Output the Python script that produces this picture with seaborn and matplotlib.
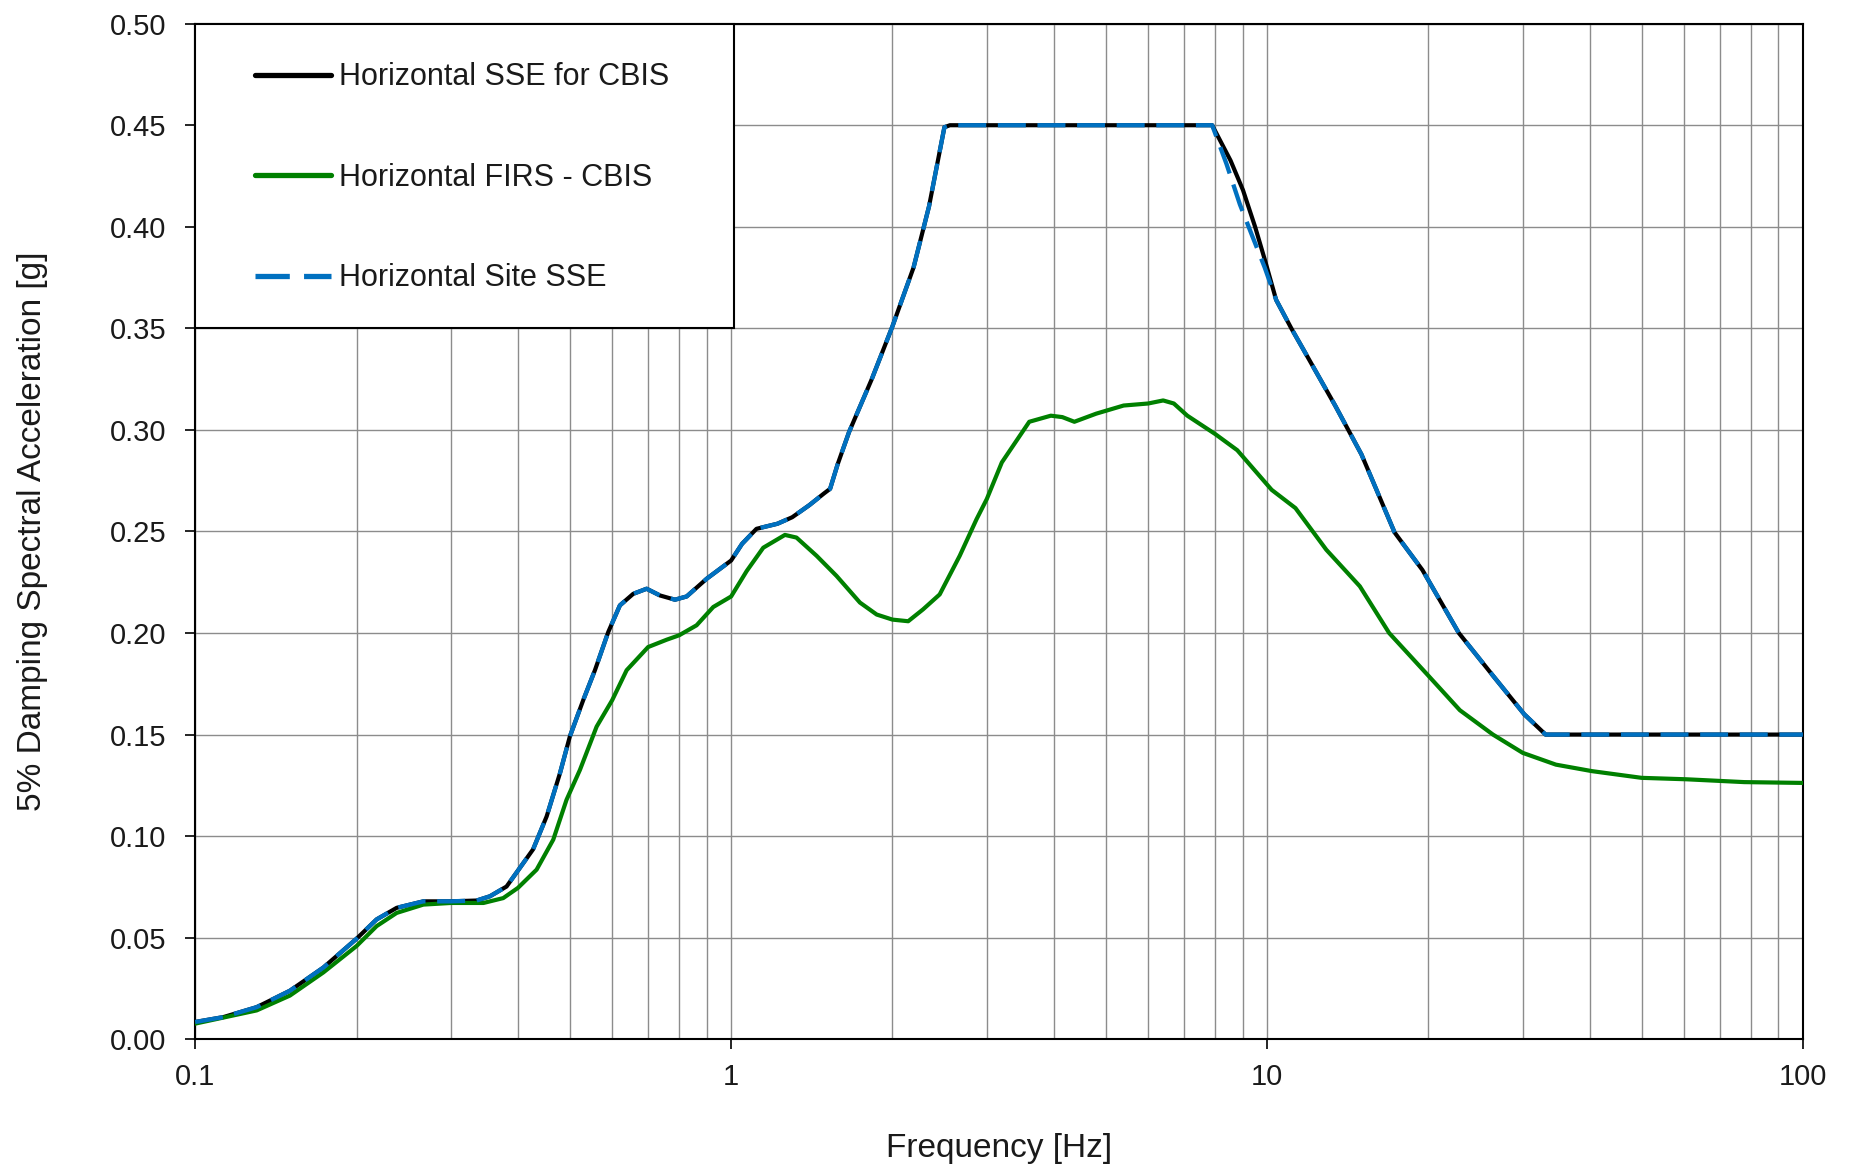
import matplotlib
matplotlib.use("Agg")
import matplotlib.pyplot as plt
import matplotlib.ticker as mticker
from matplotlib.patches import Rectangle
import numpy as np
import seaborn as sns

sns.set_theme(style="white")
plt.rcParams['font.family'] = ['Liberation Sans', 'DejaVu Sans']

# spectra: frequency [Hz] / acceleration [g]
sse_freq = [0.1, 0.1128, 0.1302, 0.1502, 0.1734, 0.2, 0.218, 0.2376, 0.2665, 0.3,
            0.335, 0.3548, 0.381, 0.4, 0.427, 0.4526, 0.4793, 0.5, 0.5297, 0.557,
            0.5898, 0.62, 0.6566, 0.6955, 0.7364, 0.7856, 0.826, 0.9, 1.0, 1.048,
            1.115, 1.22, 1.30, 1.40, 1.49, 1.53, 1.58, 1.66, 1.83, 2.0,
            2.19, 2.34, 2.5, 2.56, 7.9, 8.55, 9.02, 9.5, 9.9, 10.4,
            11.1, 11.9, 13.4, 15.0, 17.3, 19.5, 22.8, 26.4, 30.2, 33.1, 100]
sse_acc = [0.0085, 0.0109, 0.0158, 0.0239, 0.0353, 0.0495, 0.059, 0.0647, 0.0679, 0.0679,
           0.0683, 0.0704, 0.0752, 0.083, 0.0935, 0.1097, 0.131, 0.149, 0.167, 0.1817,
           0.2005, 0.2136, 0.2193, 0.2218, 0.2185, 0.2164, 0.218, 0.2267, 0.2357, 0.2439,
           0.2513, 0.2538, 0.257, 0.263, 0.2687, 0.271, 0.283, 0.299, 0.325, 0.351,
           0.380, 0.410, 0.449, 0.45, 0.45, 0.4326, 0.418, 0.400, 0.384, 0.364,
           0.350, 0.336, 0.312, 0.288, 0.2495, 0.231, 0.200, 0.179, 0.160, 0.150, 0.150]

site_freq = [0.1, 0.1128, 0.1302, 0.1502, 0.1734, 0.2, 0.218, 0.2376, 0.2665, 0.3,
             0.335, 0.3548, 0.381, 0.4, 0.427, 0.4526, 0.4793, 0.5, 0.5297, 0.557,
             0.5898, 0.62, 0.6566, 0.6955, 0.7364, 0.7856, 0.826, 0.9, 1.0, 1.048,
             1.115, 1.22, 1.30, 1.40, 1.49, 1.53, 1.58, 1.66, 1.83, 2.0,
             2.19, 2.34, 2.5, 2.56, 7.9, 8.4, 8.9, 9.4, 9.9, 10.4,
             11.1, 11.9, 13.4, 15.0, 17.3, 19.5, 22.8, 26.4, 30.2, 33.1, 100]
site_acc = [0.0085, 0.0109, 0.0158, 0.0239, 0.0353, 0.0495, 0.059, 0.0647, 0.0679, 0.0679,
            0.0683, 0.0704, 0.0752, 0.083, 0.0935, 0.1097, 0.131, 0.149, 0.167, 0.1817,
            0.2005, 0.2136, 0.2193, 0.2218, 0.2185, 0.2164, 0.218, 0.2267, 0.2357, 0.2439,
            0.2513, 0.2538, 0.257, 0.263, 0.2687, 0.271, 0.283, 0.299, 0.325, 0.351,
            0.380, 0.410, 0.449, 0.45, 0.45, 0.431, 0.411, 0.395, 0.380, 0.364,
            0.350, 0.336, 0.312, 0.288, 0.2495, 0.231, 0.200, 0.179, 0.160, 0.150, 0.150]

firs_freq = [0.1, 0.1302, 0.1502, 0.1734, 0.2, 0.218, 0.2376, 0.2665, 0.3, 0.345,
             0.3756, 0.4, 0.4335, 0.4657, 0.493, 0.5222, 0.561, 0.6, 0.6383, 0.7,
             0.7579, 0.8, 0.862, 0.926, 1.0, 1.069, 1.148, 1.26, 1.324, 1.444,
             1.573, 1.739, 1.869, 2.0, 2.14, 2.28, 2.45, 2.67, 2.87, 3.0,
             3.2, 3.6, 3.95, 4.15, 4.37, 4.8, 5.4, 6.0, 6.4, 6.7,
             7.1, 8.0, 8.8, 10.2, 11.3, 12.9, 14.9, 16.9, 20, 22.9,
             26.4, 30, 34.6, 40.4, 50, 60.5, 77.7, 100]
firs_acc = [0.0077, 0.0142, 0.0215, 0.0329, 0.0459, 0.0557, 0.0622, 0.0663, 0.0671, 0.0671,
            0.0695, 0.0745, 0.0835, 0.0983, 0.1179, 0.1326, 0.1539, 0.167, 0.1817, 0.1931,
            0.1967, 0.1989, 0.2038, 0.2128, 0.218, 0.2305, 0.242, 0.2483, 0.247, 0.238,
            0.2281, 0.215, 0.2091, 0.2066, 0.2058, 0.2116, 0.219, 0.238, 0.256, 0.266,
            0.284, 0.304, 0.307, 0.3063, 0.304, 0.308, 0.312, 0.313, 0.3145, 0.313,
            0.307, 0.298, 0.290, 0.2705, 0.2615, 0.241, 0.223, 0.200, 0.179, 0.162,
            0.150, 0.141, 0.1352, 0.132, 0.1287, 0.128, 0.1266, 0.1262]

labels = ["Horizontal SSE for CBIS", "Horizontal FIRS - CBIS", "Horizontal Site SSE"]
xticks = [0.1, 1, 10, 100]
xtick_labels = ["0.1", "1", "10", "100"]
yticks = np.arange(0, 0.501, 0.05)

txt = "#1a1a1a"

fig = plt.figure(figsize=(18.56, 11.66), dpi=100)
ax = fig.add_axes([0.1052, 0.1087, 0.8662, 0.8710])

sns.lineplot(x=sse_freq, y=sse_acc, ax=ax, color="black", lw=3.0,
             estimator=None, sort=False, label=labels[0], zorder=3)
sns.lineplot(x=firs_freq, y=firs_acc, ax=ax, color="#008000", lw=3.0,
             estimator=None, sort=False, label=labels[1], zorder=3)
sns.lineplot(x=site_freq, y=site_acc, ax=ax, color="#0070C0", lw=3.1,
             estimator=None, sort=False, label=labels[2], zorder=4)
ax.lines[2].set_dashes((6.5, 2.7))

ax.set_xscale("log")
ax.set_xlim(0.1, 100)
ax.set_ylim(0, 0.5)
ax.set_xticks(xticks)
ax.set_xticklabels(xtick_labels)
ax.xaxis.set_minor_locator(mticker.LogLocator(base=10, subs=np.arange(2, 10)))
ax.xaxis.set_minor_formatter(mticker.NullFormatter())
ax.set_yticks(yticks)
ax.yaxis.set_major_formatter(mticker.FormatStrFormatter("%.2f"))

ax.grid(which="both", axis="x", color="#8c8c8c", lw=1.0)
ax.grid(which="major", axis="y", color="#8c8c8c", lw=1.0)
ax.set_axisbelow(True)

ax.tick_params(axis="both", which="major", bottom=True, left=True, direction="out",
               length=7, width=1.2, color="black", labelsize=21, labelcolor=txt)
ax.tick_params(axis="x", which="major", pad=10)
ax.tick_params(axis="y", which="major", pad=14)
ax.tick_params(axis="x", which="minor", bottom=False, length=0)

for s in ax.spines.values():
    s.set_color("black")
    s.set_linewidth(1.5)

ax.set_xlabel("Frequency [Hz]", fontsize=24, color=txt, labelpad=30)
ax.set_ylabel("5% Damping Spectral Acceleration [g]", fontsize=24, color=txt, labelpad=44)

# legend box spans from the top-left corner to ~1 Hz / 0.35 g
box = Rectangle((0.1, 0.35), 1.012 - 0.1, 0.15, facecolor="white", edgecolor="black",
                lw=1.5, zorder=5, clip_on=False)
ax.add_patch(box)
leg = ax.legend(loc="upper left", bbox_to_anchor=(0.0275, 0.977), frameon=False,
                fontsize=22, borderpad=0, handlelength=2.5, handletextpad=0.27,
                labelspacing=2.31, labelcolor=txt)
leg.set_zorder(6)
for h in leg.get_lines():
    h.set_linewidth(3.8)

fig.savefig("out.png", dpi=100)
